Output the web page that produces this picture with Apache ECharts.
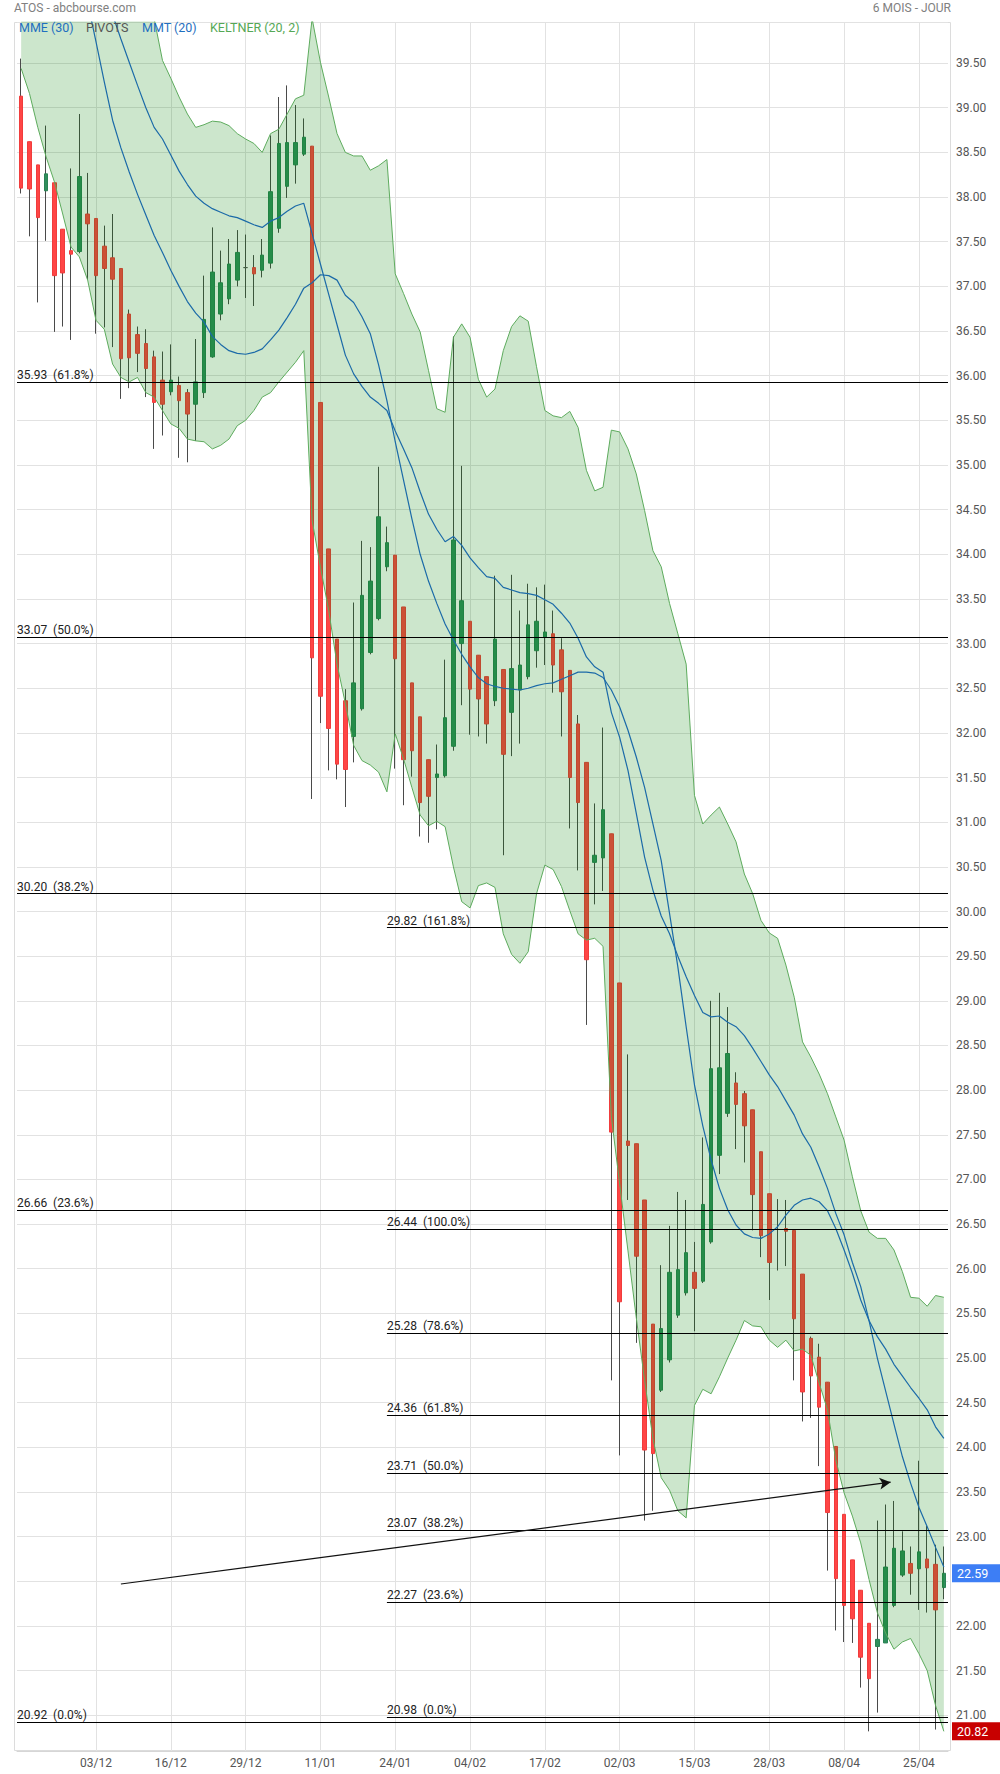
<!DOCTYPE html>
<html>
<head>
<meta charset="utf-8">
<script src="https://cdn.jsdelivr.net/npm/echarts@6/dist/echarts.min.js"></script>
<style>
html,body{margin:0;padding:0;background:#fff;}
#chart{width:1000px;height:1774px;}
</style>
</head>
<body>
<div id="chart"></div>
<script>
const dates = [
'22/11','23/11','24/11','25/11','26/11','29/11','30/11',
'01/12','02/12','03/12','06/12','07/12','08/12','09/12','10/12','13/12','14/12','15/12','16/12','17/12','20/12','21/12','22/12','23/12','24/12','27/12','28/12','29/12','30/12','31/12',
'03/01','04/01','05/01','06/01','07/01','10/01','11/01','12/01','13/01','14/01','17/01','18/01','19/01','20/01','21/01','24/01','25/01','26/01','27/01','28/01','31/01',
'01/02','02/02','03/02','04/02','07/02','08/02','09/02','10/02','11/02','14/02','15/02','16/02','17/02','18/02','21/02','22/02','23/02','24/02','25/02','28/02',
'01/03','02/03','03/03','04/03','07/03','08/03','09/03','10/03','11/03','14/03','15/03','16/03','17/03','18/03','21/03','22/03','23/03','24/03','25/03','28/03','29/03','30/03','31/03',
'01/04','04/04','05/04','06/04','07/04','08/04','11/04','12/04','13/04','14/04','19/04','20/04','21/04','22/04','25/04','26/04','27/04','28/04'
];

const opens = [
39.13,38.62,38.36,38.07,38.16,37.64,37.40,37.39,37.81,37.76,
37.45,37.32,37.20,36.69,36.46,36.36,36.21,35.95,35.82,35.89,
35.81,35.68,35.81,36.21,36.69,36.86,37.07,37.21,37.21,37.18,
37.26,37.65,38.12,38.36,38.48,38.57,35.70,34.06,33.05,32.36,
31.96,32.27,32.90,33.28,33.86,33.99,33.41,32.56,32.18,31.70,
31.50,31.52,31.85,33.00,33.25,32.87,32.63,32.36,32.71,32.23,
32.48,32.63,32.92,33.07,33.11,32.93,32.70,32.10,31.67,30.55,
30.60,30.87,29.20,27.43,27.40,26.77,25.38,24.64,24.98,25.48,
25.73,25.96,25.86,26.30,27.27,27.74,28.08,27.96,27.78,27.31,
26.84,26.44,26.45,26.43,25.94,25.22,25.01,24.73,24.01,23.25,
22.74,22.40,22.03,21.77,21.81,22.23,22.57,22.70,22.64,22.75,
22.69,22.43
];
const closes = [
38.10,38.09,37.77,38.26,37.12,37.15,37.36,38.23,37.70,37.12,
37.20,37.08,36.19,36.20,36.25,36.08,35.70,35.68,35.95,35.72,
35.57,35.93,36.63,37.16,37.04,37.25,37.38,37.21,37.14,37.35,
38.06,38.60,38.61,38.61,38.67,32.84,32.41,32.05,31.65,31.59,
32.56,33.54,33.70,34.42,34.13,32.83,31.70,31.80,31.22,31.29,
31.54,32.17,34.16,33.48,32.49,32.38,32.10,33.05,31.76,32.72,
32.76,33.21,33.25,33.13,32.76,32.46,31.50,31.22,29.46,30.63,
31.14,27.53,25.63,27.38,26.14,23.97,23.93,25.33,25.96,25.99,
26.18,25.78,26.72,28.24,28.25,28.41,27.84,27.60,26.83,26.37,
26.07,26.44,26.42,25.44,24.62,24.80,24.45,23.27,22.53,22.23,
22.08,21.65,21.41,21.85,22.66,22.87,22.84,22.59,22.83,22.65,
22.18,22.59
];
const lows = [
38.04,37.56,36.82,37.51,36.49,36.55,36.40,37.37,37.07,36.47,
36.54,36.32,35.74,35.86,36.04,35.76,35.18,35.33,35.78,35.08,
35.03,35.27,35.75,36.20,36.62,36.80,37.00,36.87,36.78,37.10,
37.20,37.60,37.99,38.15,38.46,31.26,32.11,31.58,31.48,31.17,
31.67,32.25,32.88,33.26,33.81,31.60,31.19,31.51,30.84,30.77,
30.92,31.50,31.80,32.31,31.98,31.96,31.88,32.30,30.63,31.74,
31.88,32.60,32.73,32.76,32.45,31.96,30.93,30.46,28.73,30.08,
30.23,24.75,23.91,26.77,25.17,23.18,23.29,24.62,24.95,25.45,
25.70,25.30,25.84,26.28,27.06,27.70,27.34,27.19,26.43,26.13,
25.65,25.98,26.03,24.75,24.29,24.33,23.79,22.62,21.95,21.82,
21.81,21.31,20.82,21.03,21.81,22.21,22.55,22.35,22.18,22.15,
20.84,22.30
];
const highs = [
39.55,38.62,38.36,38.80,38.16,37.64,38.32,38.93,38.27,37.76,
37.68,37.81,37.20,36.74,36.55,36.52,36.28,36.27,36.35,35.99,
35.85,36.41,37.12,37.66,37.40,37.53,37.63,37.58,37.35,37.53,
38.69,39.12,39.25,39.03,38.88,38.57,35.70,34.06,33.05,32.49,
33.46,34.15,34.08,34.98,34.31,33.99,33.41,32.56,32.18,31.70,
31.87,32.82,36.44,34.99,33.25,32.87,32.63,33.76,32.71,33.77,
33.37,33.67,33.63,33.66,33.37,33.06,32.70,32.20,31.67,31.21,
32.06,30.87,29.20,28.40,27.40,26.77,25.38,26.04,26.48,26.86,
26.77,26.30,27.47,29.00,29.09,28.93,28.20,27.99,27.78,27.31,
26.84,26.78,26.77,26.43,25.94,25.24,25.16,24.73,24.01,23.25,
22.74,22.40,22.03,23.18,23.36,23.40,23.06,22.89,23.85,23.12,
22.91,22.89
];

const keltnerUpper = [
43.4,43.2,43.0,42.8,42.5,42.3,42.0,41.8,41.6,41.3,
41.1,40.9,40.7,40.5,40.35,40.2,40.0,39.53,39.33,39.12,
38.93,38.78,38.81,38.85,38.84,38.80,38.71,38.65,38.60,38.50,
38.71,38.76,38.93,39.10,39.14,40.0,39.51,39.12,38.71,38.50,
38.46,38.46,38.30,38.35,38.42,37.14,36.92,36.69,36.49,36.06,
35.63,35.59,36.43,36.58,36.43,35.96,35.76,35.85,36.28,36.55,
36.67,36.61,36.10,35.61,35.55,35.53,35.60,35.42,34.94,34.71,
34.75,35.39,35.37,35.18,34.90,34.49,34.04,33.86,33.45,33.11,
32.77,31.30,30.98,31.08,31.17,30.98,30.78,30.42,30.20,29.90,
29.76,29.70,29.40,29.04,28.54,28.37,28.18,27.96,27.70,27.44,
27.03,26.65,26.41,26.34,26.34,26.21,25.97,25.68,25.67,25.58,
25.70,25.68
];
const keltnerLower = [
39.44,39.16,38.78,38.45,38.17,37.81,37.44,37.33,37.07,36.62,
36.52,36.13,35.98,35.93,35.98,35.81,35.76,35.61,35.46,35.41,
35.29,35.27,35.26,35.18,35.22,35.29,35.44,35.50,35.61,35.76,
35.81,35.93,36.04,36.15,36.28,34.38,33.86,33.37,32.77,32.33,
31.86,31.69,31.64,31.56,31.34,31.99,31.71,31.39,31.08,30.96,
31.01,30.95,30.50,30.11,30.04,30.29,30.32,30.27,29.75,29.52,
29.42,29.55,30.20,30.52,30.47,30.28,30.01,29.75,29.68,29.70,
29.61,27.70,26.95,26.20,25.45,24.75,24.10,23.66,23.52,23.29,
23.21,24.47,24.65,24.60,24.79,25.00,25.20,25.42,25.36,25.35,
25.20,25.12,25.20,25.08,25.10,25.03,24.72,24.42,23.86,23.49,
23.23,22.93,22.52,22.15,21.92,21.74,21.82,21.86,21.69,21.50,
21.11,20.82
];
const mme30 = [
42.9,42.6,42.3,42.0,41.7,41.45,41.2,40.95,40.7,40.5,
40.3,40.04,39.77,39.51,39.25,39.00,38.78,38.65,38.47,38.29,
38.14,38.01,37.93,37.87,37.83,37.79,37.77,37.73,37.69,37.66,
37.73,37.77,37.84,37.90,37.93,37.59,37.25,36.91,36.57,36.23,
36.02,35.88,35.76,35.69,35.61,35.38,35.18,34.97,34.70,34.45,
34.28,34.14,34.20,34.10,33.96,33.85,33.75,33.73,33.63,33.60,
33.57,33.56,33.54,33.49,33.44,33.34,33.23,33.06,32.85,32.74,
32.68,32.23,31.95,31.58,31.10,30.61,30.24,29.95,29.75,29.50,
29.27,29.06,28.87,28.82,28.83,28.76,28.71,28.61,28.47,28.32,
28.17,28.04,27.88,27.72,27.51,27.36,27.14,26.90,26.62,26.38,
26.07,25.80,25.42,25.00,24.63,24.26,23.90,23.60,23.33,23.11,
22.88,22.66
];
const mmt20 = [
43.2,42.7,42.2,41.8,41.4,41.0,40.7,40.42,40.18,39.74,
39.29,38.86,38.55,38.28,38.03,37.80,37.57,37.38,37.18,37.00,
36.83,36.70,36.60,36.44,36.35,36.28,36.25,36.24,36.26,36.30,
36.40,36.51,36.65,36.80,36.98,37.04,37.13,37.12,37.07,36.90,
36.82,36.66,36.47,36.12,35.72,35.26,34.83,34.40,34.00,33.70,
33.45,33.22,33.04,32.88,32.74,32.62,32.55,32.52,32.50,32.49,
32.48,32.50,32.53,32.55,32.56,32.60,32.64,32.68,32.68,32.67,
32.62,32.48,32.29,32.03,31.73,31.39,30.98,30.57,29.98,29.38,
28.71,28.06,27.60,27.22,26.90,26.66,26.49,26.39,26.35,26.34,
26.39,26.47,26.60,26.71,26.77,26.79,26.75,26.65,26.45,26.21,
25.95,25.65,25.42,25.24,25.10,24.93,24.80,24.67,24.55,24.42,
24.23,24.10
];

const fibLevelsA = [35.93, 33.07, 30.20, 26.66, 20.92];
const fibPctA = ['61.8%', '50.0%', '38.2%', '23.6%', '0.0%'];
const fibLevelsB = [29.82, 26.44, 25.28, 24.36, 23.71, 23.07, 22.27, 20.98];
const fibPctB = ['161.8%', '100.0%', '78.6%', '61.8%', '50.0%', '38.2%', '23.6%', '0.0%'];
const fibStartB = 44;
const trendStart = [12, 22.47];
const trendEnd = [104.6, 23.61];
const legendItems = ['MME (30)', 'PIVOTS', 'MMT (20)', 'KELTNER (20, 2)'];

const N = dates.length;
const lastClose = closes[N - 1];
const lastLower = keltnerLower[N - 1];
const showTick = (idx) => idx > 0 && idx % 9 === 0;
const FONT = 'Roboto, "Noto Sans", sans-serif';
const GREEN_LINE = '#5dab5d';
const MA_BLUE = '#1b6aa8';

const wickData = dates.map((d, i) => [opens[i], closes[i], lows[i], highs[i]]);
const bodyData = dates.map((d, i) => [opens[i], closes[i], Math.min(opens[i], closes[i]), Math.max(opens[i], closes[i])]);
const bandWidth = keltnerUpper.map((u, i) => +(u - keltnerLower[i]).toFixed(4));
const fibLabel = (v, p) => v.toFixed(2) + '  (' + p + ')';

const fibLabelStyle = {
  show: true, position: 'insideStartTop', distance: [0, 1],
  color: '#222', fontSize: 12, fontFamily: FONT
};

const badgeLabel = (value, bg) => ({
  show: true, position: 'end', distance: 4, formatter: value.toFixed(2),
  color: '#fff', backgroundColor: bg, padding: [3, 14, 2, 5],
  fontSize: 12.5, fontFamily: FONT, opacity: 1
});

const chart = echarts.init(document.getElementById('chart'), null, { renderer: 'svg' });

const option = {
  animation: false,
  backgroundColor: '#fff',
  grid: { left: 17, right: 52, top: 22, bottom: 23, containLabel: false },
  xAxis: [
    {
      type: 'category', data: dates, boundaryGap: true,
      axisLine: { show: true, lineStyle: { color: '#d6d6d6' } },
      axisTick: { show: false, alignWithLabel: true, interval: showTick },
      axisLabel: { interval: showTick, color: '#555', fontSize: 12, fontFamily: FONT, margin: 6 },
      splitLine: { show: true, interval: showTick, alignWithLabel: true, lineStyle: { color: '#e2e2e2', width: 1 } }
    },
    { type: 'value', min: -0.5, max: N - 0.5, show: false, position: 'top' }
  ],
  yAxis: {
    type: 'value', position: 'right', min: 20.6, max: 39.96, splitNumber: 39, scale: true,
    axisLine: { show: false }, axisTick: { show: false },
    axisLabel: {
      color: '#555', fontSize: 12, fontFamily: FONT, margin: 8, padding: [0, 0, 6, 0],
      formatter: (v) => {
        if (Math.abs(v * 2 - Math.round(v * 2)) > 1e-6) return '';
        if (Math.abs(v - lastClose) < 0.12) return '';
        return v.toFixed(2);
      }
    },
    splitLine: { show: true, lineStyle: { color: '#e2e2e2', width: 1 } }
  },
  graphic: [
    { type: 'rect', silent: true, z: -1, shape: { x: 14.5, y: 22.5, width: 936, height: 1728 },
      style: { fill: 'none', stroke: '#dcdcdc', lineWidth: 1 } },
    { type: 'text', left: 14, top: 2, silent: true,
      style: { text: 'ATOS - abcbourse.com', fill: '#808080', font: '12px ' + FONT } },
    { type: 'text', right: 49, top: 2, silent: true,
      style: { text: '6 MOIS - JOUR', fill: '#808080', font: '12px ' + FONT } },
    { type: 'text', left: 19, top: 21, silent: true, z: 100,
      style: { text: legendItems[0], fill: '#1f6fc0', font: '12.5px ' + FONT } },
    { type: 'text', left: 86, top: 21, silent: true, z: 100,
      style: { text: legendItems[1], fill: '#555', font: '12.5px ' + FONT } },
    { type: 'text', left: 142, top: 21, silent: true, z: 100,
      style: { text: legendItems[2], fill: '#1f6fc0', font: '12.5px ' + FONT } },
    { type: 'text', left: 210, top: 21, silent: true, z: 100,
      style: { text: legendItems[3], fill: '#55a855', font: '12.5px ' + FONT } }
  ],
  series: [
    {
      name: 'wicks', type: 'candlestick', data: wickData, barWidth: 1, silent: true,
      itemStyle: { color: '#4a4a4a', color0: '#4a4a4a', borderColor: '#4a4a4a', borderColor0: '#4a4a4a', borderColorDoji: '#4a4a4a', borderWidth: 1 }
    },
    {
      name: 'ATOS', type: 'candlestick', data: bodyData, barWidth: 4, silent: true,
      itemStyle: { color: '#2f8f5c', color0: '#ff4545', borderColor: '#2a8254', borderColor0: '#f03c3c', borderColorDoji: '#555', borderWidth: 1 }
    },
    {
      name: 'keltnerLow', type: 'line', data: keltnerLower, stack: 'kelt', symbol: 'none', silent: true,
      lineStyle: { color: GREEN_LINE, width: 1 }
    },
    {
      name: 'KELTNER (20, 2)', type: 'line', data: bandWidth, stack: 'kelt', symbol: 'none', silent: true,
      lineStyle: { color: GREEN_LINE, width: 1 },
      areaStyle: { color: 'rgba(0,128,0,0.2)', opacity: 1 }
    },
    {
      name: 'MME (30)', type: 'line', data: mme30, symbol: 'none', silent: true,
      lineStyle: { color: MA_BLUE, width: 1.2 }
    },
    {
      name: 'MMT (20)', type: 'line', data: mmt20, symbol: 'none', silent: true,
      lineStyle: { color: MA_BLUE, width: 1.2 }
    },
    {
      name: 'fibA', type: 'line', xAxisIndex: 1, data: [], silent: true,
      markLine: {
        silent: true, symbol: ['none', 'none'], animation: false,
        lineStyle: { color: '#000', width: 1, type: 'solid' },
        label: fibLabelStyle,
        data: fibLevelsA.map((v, i) => ({ yAxis: v, label: Object.assign({}, fibLabelStyle, { formatter: fibLabel(v, fibPctA[i]) }) }))
      }
    },
    {
      name: 'fibB', type: 'line', xAxisIndex: 1, data: [], silent: true,
      markLine: {
        silent: true, symbol: ['none', 'none'], animation: false,
        lineStyle: { color: '#000', width: 1, type: 'solid' },
        label: fibLabelStyle,
        data: fibLevelsB.map((v, i) => [
          { coord: [fibStartB, v], label: Object.assign({}, fibLabelStyle, { formatter: fibLabel(v, fibPctB[i]) }) },
          { coord: [N - 0.5, v] }
        ])
      }
    },
    {
      name: 'trend', type: 'line', xAxisIndex: 1, data: [], silent: true,
      markLine: {
        silent: true, symbol: ['none', 'arrow'], symbolSize: [9, 11], animation: false,
        lineStyle: { color: '#111', width: 1.2, type: 'solid' },
        label: { show: false },
        data: [[{ coord: trendStart }, { coord: trendEnd }]]
      }
    },
    {
      name: 'badges', type: 'line', xAxisIndex: 1, data: [], silent: true, z: 10,
      markLine: {
        silent: true, symbol: ['none', 'none'], animation: false,
        lineStyle: { color: 'rgba(0,0,0,0)', width: 1, opacity: 1 },
        data: [
          { yAxis: lastClose, label: badgeLabel(lastClose, '#3d7ef5') },
          { yAxis: lastLower, label: badgeLabel(lastLower, '#c80000') }
        ]
      }
    }
  ]
};

chart.setOption(option);
</script>
</body>
</html>
